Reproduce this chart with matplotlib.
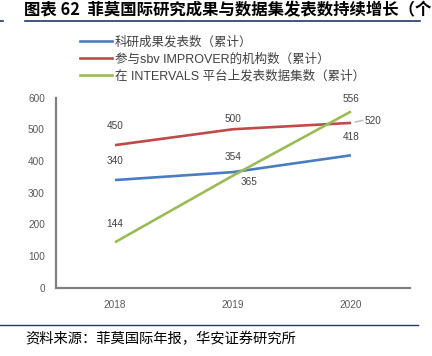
import matplotlib
matplotlib.use("Agg")
import matplotlib.pyplot as plt
from matplotlib.lines import Line2D

plt.rcParams['font.family'] = ['Liberation Sans', 'Noto Sans CJK SC', 'DejaVu Sans']

# ---- data ----
years = ["2018", "2019", "2020"]
papers = [340, 365, 418]          # 科研成果发表数（累计）
institutions = [450, 500, 520]    # 参与sbv IMPROVER的机构数（累计）
datasets = [144, 354, 556]        # 在 INTERVALS 平台上发表数据集数（累计）
series_names = ["科研成果发表数（累计）",
                "参与sbv IMPROVER的机构数（累计）",
                "在 INTERVALS 平台上发表数据集数（累计）"]
yticks = [0, 100, 200, 300, 400, 500, 600]
title = "图表 62  菲莫国际研究成果与数据集发表数持续增长（个"
source = "资料来源：菲莫国际年报，华安证券研究所"

colors = ["#4A7CC2", "#BE4B48", "#9BBB59"]

W, H = 432, 356
fig = plt.figure(figsize=(W / 100, H / 100), dpi=100)
fig.patch.set_facecolor("white")

def fx(px):
    return px / W

def fy(py):
    return 1 - py / H

ax = fig.add_axes([fx(56), fy(288), fx(410) - fx(56), fy(97.5) - fy(288)])
x = list(range(len(years)))
all_series = [papers, institutions, datasets]
for vals, c in zip(all_series, colors):
    ax.plot(x, vals, color=c, lw=1.9, solid_capstyle="butt")

ax.set_xlim(-0.5, len(years) - 0.5)
ax.set_ylim(0, 600)
ax.set_yticks(yticks)
ax.set_xticks(x)
ax.set_xticklabels(years)
ax.tick_params(axis="both", length=0, labelsize=7.2, colors="#595959")
ax.tick_params(axis="y", pad=8)
ax.tick_params(axis="x", pad=9)
for s in ["top", "right"]:
    ax.spines[s].set_visible(False)
for s in ["left", "bottom"]:
    ax.spines[s].set_color("#808080")
    ax.spines[s].set_linewidth(1.6)

# data labels (offsets in points)
label_offsets = [
    [(0, 13.5), (11.5, -7), (0, 13.5)],
    [(0, 13.5), (0, 7.5), (15.5, 1.5)],
    [(0, 13.5), (0, 13.5), (0, 9)],
]
for vals, offs in zip(all_series, label_offsets):
    for xi, v, (dx, dy) in zip(x, vals, offs):
        ax.annotate(str(v), (xi, v), xytext=(dx, dy), textcoords="offset points",
                    ha="center", va="center", fontsize=7.2, color="#404040")
# leader line for the 520 label
ax.annotate("", xy=(x[2], institutions[2]), xytext=(8.5, 1.8), textcoords="offset points",
            arrowprops=dict(arrowstyle="-", color="#BFBFBF", lw=1.2,
                            shrinkA=0, shrinkB=3))

# legend
handles = [Line2D([], [], color=c, lw=1.9) for c in colors]
fig.legend(handles, series_names, loc="upper left",
           bbox_to_anchor=(fx(74), fy(30)), frameon=False, fontsize=9,
           handlelength=2.5, handletextpad=0.25, labelspacing=0.38, borderpad=0,
           labelcolor="#404040")

# title and rules
fig.text(fx(431), fy(10), title, fontsize=11.8, fontweight="bold",
         ha="right", va="center", color="black",
         family=['Noto Sans CJK SC', 'DejaVu Sans'])
fig.add_artist(Line2D([fx(25), fx(420)], [fy(21), fy(21)], color="#1F3A6E", lw=1.2))
fig.add_artist(Line2D([fx(0), fx(3)], [fy(21), fy(21)], color="#1F3A6E", lw=1.2))
fig.add_artist(Line2D([fx(0), fx(418)], [fy(325), fy(325)], color="#1F3A6E", lw=1.0))
fig.text(fx(25), fy(339), source, fontsize=10.3, ha="left", va="center", color="black",
         family=['Noto Sans CJK SC', 'DejaVu Sans'])

fig.savefig("out.png", dpi=100)
